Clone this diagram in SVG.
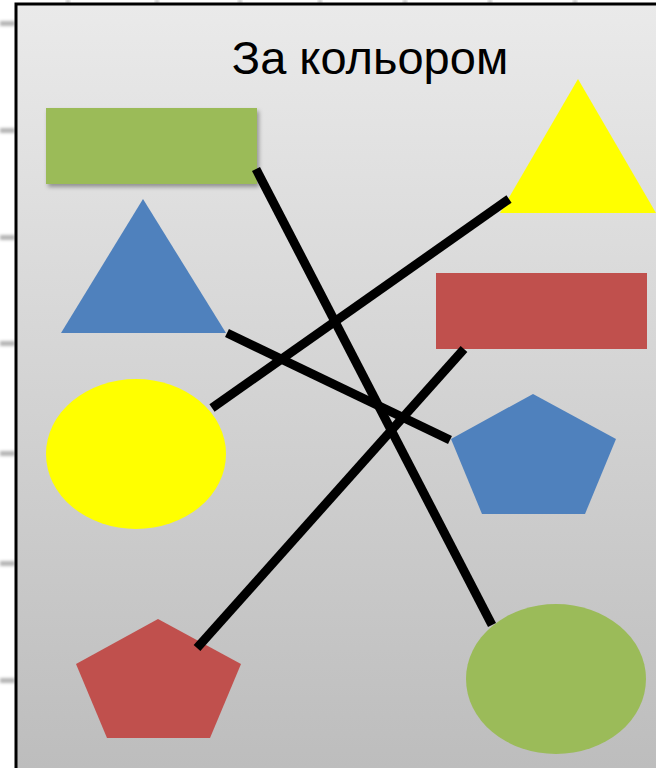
<svg xmlns="http://www.w3.org/2000/svg" width="656" height="768" viewBox="0 0 656 768">
  <defs>
    <linearGradient id="bg" x1="0" y1="0" x2="0" y2="1">
      <stop offset="0" stop-color="#eaeaea"/>
      <stop offset="1" stop-color="#bcbcbc"/>
    </linearGradient>
    <filter id="shadow" x="-10%" y="-20%" width="130%" height="150%">
      <feDropShadow dx="2" dy="3" stdDeviation="2" flood-color="#000" flood-opacity="0.35"/>
    </filter>
    <filter id="blur" x="-20%" y="-200%" width="140%" height="500%">
      <feGaussianBlur stdDeviation="1.5"/>
    </filter>
  </defs>
  <style>
    .conn { stroke: #000; stroke-width: 9; fill: none; }
    .green { fill: #9bbb59; }
    .red { fill: #c0504d; }
    .blue { fill: #4f81bd; }
    .yellow { fill: #ffff00; }
    .streak { fill: #b5b5b5; filter: url(#blur); }
    .title { font-family: "Liberation Sans", Arial, sans-serif; font-size: 47px; fill: #000; }
  </style>

  <rect x="0" y="0" width="656" height="768" fill="#ffffff"/>
  <g id="background-marks">
    <rect class="streak" x="0" y="21" width="15" height="5"/>
    <rect class="streak" x="0" y="128" width="15" height="5"/>
    <rect class="streak" x="0" y="235" width="15" height="5"/>
    <rect class="streak" x="0" y="341" width="15" height="5"/>
    <rect class="streak" x="0" y="451" width="15" height="5"/>
    <rect class="streak" x="0" y="561" width="15" height="5"/>
    <rect class="streak" x="0" y="678" width="15" height="5"/>
    <rect class="streak" x="66" y="0" width="4" height="3"/>
    <rect class="streak" x="155" y="0" width="4" height="3"/>
    <rect class="streak" x="238" y="0" width="4" height="3"/>
    <rect class="streak" x="318" y="0" width="4" height="3"/>
    <rect class="streak" x="403" y="0" width="4" height="3"/>
    <rect class="streak" x="488" y="0" width="4" height="3"/>
    <rect class="streak" x="573" y="0" width="4" height="3"/>
  </g>
  <rect id="panel" x="16" y="4" width="650" height="780" fill="url(#bg)" stroke="#000" stroke-width="3"/>

  <text class="title" x="370" y="74" text-anchor="middle">За кольором</text>

  <g id="green-rect"><rect class="green" x="46" y="108" width="211" height="76" filter="url(#shadow)"/></g>
  <g id="yellow-triangle"><polygon class="yellow" points="578,79 656,213 500,213"/></g>
  <g id="blue-triangle"><polygon class="blue" points="143,199 226,333 61,333"/></g>
  <g id="red-rect"><rect class="red" x="436" y="273" width="211" height="76"/></g>
  <g id="yellow-ellipse"><ellipse class="yellow" cx="136" cy="454" rx="90" ry="75"/></g>
  <g id="blue-pentagon"><polygon class="blue" points="533,394 616,439 585,514 482,514 451,439"/></g>
  <g id="red-pentagon"><polygon class="red" points="158,619 241,664 210,738 107,738 76,664"/></g>
  <g id="green-ellipse"><ellipse class="green" cx="556" cy="679" rx="90" ry="75"/></g>

  <g id="connectors">
    <line class="conn" x1="256" y1="169" x2="492" y2="625"/>
    <line class="conn" x1="509" y1="199" x2="212" y2="408"/>
    <line class="conn" x1="227" y1="333" x2="450" y2="440"/>
    <line class="conn" x1="464" y1="349" x2="197" y2="648"/>
  </g>
</svg>
